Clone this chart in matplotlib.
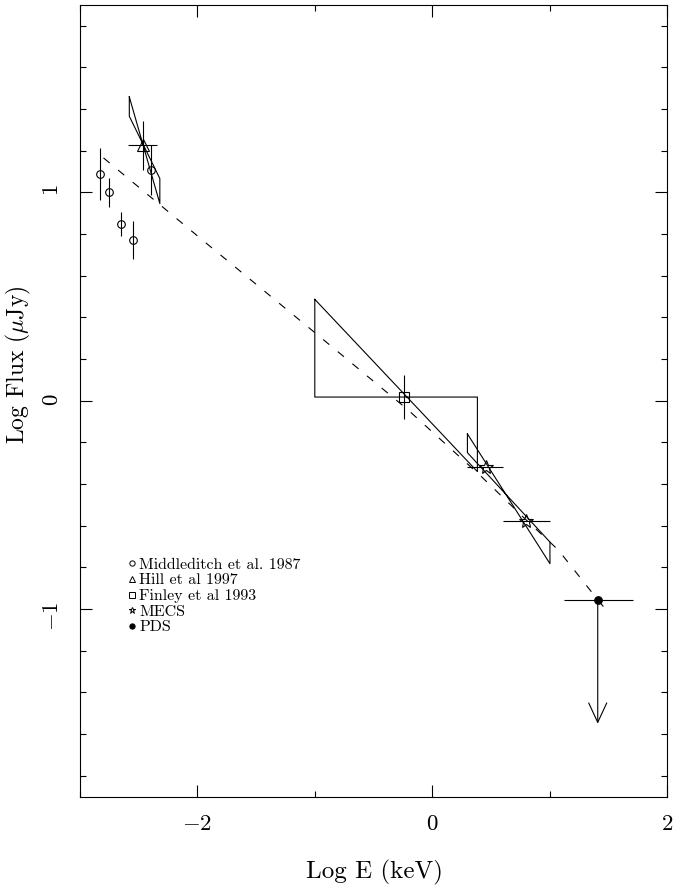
import numpy as np
import matplotlib
matplotlib.use('Agg')
import matplotlib.pyplot as plt
from matplotlib.ticker import MultipleLocator

plt.rcParams['font.family'] = 'serif'
plt.rcParams['font.serif'] = ['cmr10']
plt.rcParams['mathtext.fontset'] = 'cm'
plt.rcParams['axes.formatter.use_mathtext'] = True

# Middleditch et al. 1987
mid_x = [-2.827, -2.750, -2.648, -2.551, -2.395]
mid_y = [1.089, 1.000, 0.849, 0.771, 1.107]
mid_yerr = [0.125, 0.070, 0.057, 0.092, 0.120]

# Hill et al 1997 (point + bowtie)
hill_x = [-2.461]
hill_y = [1.227]
hill_xlo = [-2.594]
hill_xhi = [-2.342]
hill_yerr = [0.117]
hill_bow_x = [-2.58, -2.32, -2.32, -2.58, -2.58]
hill_bow_y = [1.459, 0.947, 1.067, 1.366, 1.459]

# Finley et al 1993
fin_x = [-0.238]
fin_y = [0.018]
fin_yerr = [0.107]
fin_bow_x = [-1.0, 0.385, 0.385, -1.0, -1.0]
fin_bow_y = [0.487, -0.340, 0.018, 0.018, 0.487]

# MECS
mecs_x = [0.456, 0.799]
mecs_y = [-0.317, -0.576]
mecs_xlo = [0.300, 0.607]
mecs_xhi = [0.607, 1.003]
mecs_bow_x = [0.300, 1.003, 1.003, 0.300, 0.300]
mecs_bow_y = [-0.159, -0.782, -0.678, -0.249, -0.159]

# PDS upper limit
pds_x = [1.41]
pds_y = [-0.955]
pds_xlo = [1.125]
pds_xhi = [1.713]
pds_limit = -1.55

# model curve (dashed)
model_x = [-2.80, -1.90, -0.984, -0.203, 0.421, 0.799, 1.074, 1.41, 1.50]
model_y = [1.166, 0.745, 0.320, -0.045, -0.365, -0.571, -0.716, -0.955, -1.017]

legend_labels = ['Middleditch et al. 1987', 'Hill et al 1997', 'Finley et al 1993', 'MECS', 'PDS']
legend_markers = ['o', '^', 's', '*', 'o']


def xerr_from(x, lo, hi):
    x = np.asarray(x)
    return [x - np.asarray(lo), np.asarray(hi) - x]


fig = plt.figure(figsize=(6.75, 8.92), dpi=100)
ax = fig.add_axes([80 / 675, (892 - 796.6) / 892, 587 / 675, 791.6 / 892])

lw = 0.8
k = 'black'

ax.plot(model_x, model_y, color=k, lw=lw, linestyle=(0, (7.2, 9.9)))

ax.errorbar(mid_x, mid_y, yerr=mid_yerr, fmt='o', ms=5.5, mfc='none', mec=k,
            mew=lw, ecolor=k, elinewidth=lw, capsize=0)

ax.plot(hill_bow_x, hill_bow_y, color=k, lw=lw)
ax.errorbar(hill_x, hill_y, xerr=xerr_from(hill_x, hill_xlo, hill_xhi), yerr=hill_yerr,
            fmt='^', ms=8, mfc='none', mec=k, mew=lw, ecolor=k, elinewidth=lw, capsize=0)

ax.plot(fin_bow_x, fin_bow_y, color=k, lw=lw)
ax.errorbar(fin_x, fin_y, yerr=fin_yerr, fmt='s', ms=7, mfc='none', mec=k,
            mew=lw, ecolor=k, elinewidth=lw, capsize=0)

ax.plot(mecs_bow_x, mecs_bow_y, color=k, lw=lw)
ax.errorbar(mecs_x, mecs_y, xerr=xerr_from(mecs_x, mecs_xlo, mecs_xhi), fmt='*', ms=10,
            mfc='none', mec=k, mew=lw, ecolor=k, elinewidth=lw, capsize=0)

ax.errorbar(pds_x, pds_y, xerr=xerr_from(pds_x, pds_xlo, pds_xhi), fmt='o', ms=5.3,
            mfc=k, mec=k, ecolor=k, elinewidth=lw, capsize=0)
ax.annotate('', xy=(pds_x[0], pds_limit), xytext=(pds_x[0], pds_y[0]),
            arrowprops=dict(arrowstyle='->,head_length=1.4,head_width=0.65', lw=lw,
                            color=k, shrinkA=0, shrinkB=0, mutation_scale=10))

# legend drawn by hand like the original
for i, (lab, mk) in enumerate(zip(legend_labels, legend_markers)):
    yy = 0.2947 - i * 0.0198
    filled = (lab == 'PDS')
    ax.plot([0.088], [yy], marker=mk, ms=4.8 if mk == '*' else 3.8, transform=ax.transAxes,
            mfc=k if filled else 'none', mec=k, mew=0.7, linestyle='none')
    ax.text(0.1010, yy, lab, transform=ax.transAxes, fontsize=11.5,
            ha='left', va='center_baseline')

ax.set_xlim(-3, 2)
ax.set_ylim(-1.9, 1.9)
ax.xaxis.set_major_locator(MultipleLocator(2))
ax.xaxis.set_minor_locator(MultipleLocator(1))
ax.yaxis.set_major_locator(MultipleLocator(1))
ax.yaxis.set_minor_locator(MultipleLocator(0.2))
ax.tick_params(which='both', direction='in', top=True, right=True, width=lw)
ax.tick_params(which='major', length=8.6, pad=13, labelsize=16.5)
ax.tick_params(which='minor', length=4.5)
ax.tick_params(axis='y', labelrotation=90)
for sp in ax.spines.values():
    sp.set_linewidth(lw)

ax.set_xlabel('Log E (keV)', fontsize=18)
ax.set_ylabel(r'Log Flux ($\mu$Jy)', fontsize=17)
ax.xaxis.set_label_coords(0.502, -0.080)
ax.yaxis.set_label_coords(-0.080, 0.545)

fig.savefig('out.png', dpi=100)
